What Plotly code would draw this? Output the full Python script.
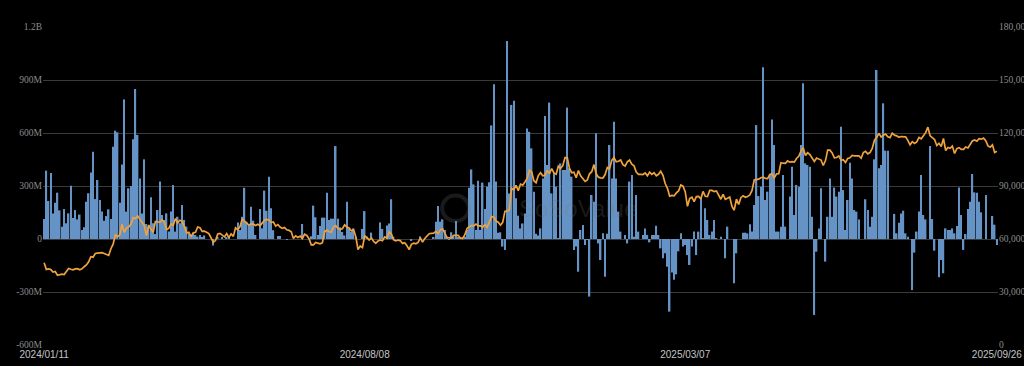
import pandas as pd
import plotly.graph_objects as go

# ---- Trading-day categories (US market holidays removed) ----
START = "2024-01-11"
END = "2025-09-26"
HOLIDAYS = ["2024-01-15", "2024-02-19", "2024-03-29", "2024-05-27", "2024-06-19",
            "2024-07-04", "2024-09-02", "2024-11-28", "2024-12-25", "2025-01-01",
            "2025-01-09", "2025-01-20", "2025-02-17", "2025-04-18", "2025-05-26",
            "2025-06-19", "2025-07-04", "2025-09-01"]
DATES = [d.strftime("%Y/%m/%d") for d in
         pd.bdate_range(START, END, freq="C", holidays=HOLIDAYS)]

# ---- Daily net flow (USD millions), one list per month ----
FLOW_2024_01 = [113, 387, 215, 373, 145, 205, 262, 162, 70, 170, 89, 145, 302, 119]
FLOW_2024_02 = [164, 111, 138, 51, 66, 211, 259, 377, 494, 226, 334, 221, 155, 104, 130,
                168, 113, 522, 613, 604]
FLOW_2024_03 = [205, 422, 790, 155, 287, 300, 564, 849, 589, 343, 145, 451, 85, 70, 236,
                89, 28, 164, 325, 136]
FLOW_2024_04 = [108, 145, 42, 155, 306, 42, 126, 89, 192, 108, 70, 32, 23, 32, 23, 13,
                23, 12, 20, 0, 0, 0]
FLOW_2024_05 = [-37, 0, 12, 0, 8, 0, 10, 12, 0, 0, 0, 94, 51, 126, 290, 98, 79, 183, 104,
                23, 0, 170]
FLOW_2024_06 = [60, 274, 160, 353, 174, 50, 0, 17, 17, 0, 0, -2, 0, 0, 0, 0, 0, 0, 85]
FLOW_2024_07 = [0, 0, 0, 15, 189, 123, 23, 74, 121, 121, 262, 108, 115, 115, 526, 115, 66,
                40, 20, 211, 60, 40]
FLOW_2024_08 = [60, 10, 0, 0, 57, 158, 13, 0, 36, 0, 0, 0, 94, 57, 0, 77, 88, 225, 13, 0,
                0, 0]
FLOW_2024_09 = [0, 0, 0, 0, -8, 0, 0, 0, 15, 0, 0, 0, 0, 0, 10, 98, 187, 98, 111, 51]
FLOW_2024_10 = [13, -2, 38, 13, 102, 10, 5, 5, 13, 51, 290, 394, 309, 51, 330, 51, 319,
                170, 296, 321, 643, 876, 325]
FLOW_2024_11 = [36, 38, -43, -62, 1121, 258, 759, 783, 230, 132, 60, 88, 145, 626, 607,
                513, 268, 30, 20, 60]
FLOW_2024_12 = [343, 696, 419, 772, 258, 372, 296, 4, 428, 391, 391, 744, 400, 353, -62,
                -43, -185, 51, 79, -34, -5]
FLOW_2025_01 = [-326, 249, 211, 598, -25, -119, 32, -213, 30, 532, 343, 664, 343, 155, 42,
                0, 23, -25, 325, 362]
FLOW_2025_02 = [13, 249, 42, 0, 23, 60, 23, -19, 23, 23, 75, 23, -53, -109, -81, -157,
                -411, -190, -230]
FLOW_2025_03 = [-200, -70, 32, -43, -34, -91, -147, -43, 42, -91, 42, 230, 4, 174, 108,
                23, 42, 108, 4, 0, 13]
FLOW_2025_04 = [0, -109, 70, 0, 0, -251, -81, 0, 0, 36, 36, 32, 83, 42, 192, 645, 243,
                296, 972, 221, 268]
FLOW_2025_05 = [362, 677, 532, 42, 42, 70, 362, 70, 0, 240, 409, 136, 306, 296, 532, 881,
                428, 419, 409, 126, -430]
FLOW_2025_06 = [-72, 60, 287, 0, -128, 126, 343, 126, 291, 240, 268, 636, 277, 51, 221,
                432, 343, 164, 155, 111]
FLOW_2025_07 = [0, 0, 225, 164, 70, 126, 451, 957, 400, 419, 768, 500, 500, 0, 0, 142, 32,
                92, 145, 160, 32, 13]
FLOW_2025_08 = [0, -289, -77, 42, 155, 362, 136, 111, 0, 526, 113, -66, 0, -217, -119,
                -194, 60, 51, 51, 60, 32]
FLOW_2025_09 = [74, 292, 136, -62, 28, 170, 211, 368, 264, 262, 211, 151, 0, 249, 0, 0,
                130, 81, -34]

# ---- BTC price (USD thousands), one list per month ----
PRICE_2024_01 = [46.6, 42.8, 43.1, 42.7, 41.3, 41.6, 39.5, 39.8, 40.1, 39.9, 41.8, 43.3,
                 42.9, 42.6]
PRICE_2024_02 = [43.1, 43.2, 42.6, 43.1, 44.3, 45.3, 47.1, 50.0, 49.7, 51.8, 52.0, 52.1,
                 52.3, 51.8, 51.3, 50.7, 54.5, 57.1, 62.5, 61.2]
PRICE_2024_03 = [62.4, 68.3, 63.8, 66.1, 66.9, 68.3, 72.1, 71.5, 73.1, 71.4, 69.4, 67.6,
                 61.9, 67.9, 65.5, 63.8, 69.9, 69.9, 69.5, 70.8]
PRICE_2024_04 = [69.7, 65.4, 66.0, 68.5, 67.8, 71.6, 69.1, 70.6, 70.0, 67.1, 63.4, 63.8,
                 61.3, 63.5, 63.8, 66.8, 66.4, 64.3, 64.5, 63.8, 63.1, 60.6]
PRICE_2024_05 = [58.2, 59.1, 62.9, 63.2, 62.3, 61.2, 63.1, 60.8, 62.9, 61.5, 66.3, 65.2,
                 67.0, 71.4, 70.1, 69.1, 67.9, 68.5, 68.4, 67.6, 68.4, 67.5]
PRICE_2024_06 = [68.8, 70.6, 71.1, 70.8, 69.3, 69.6, 67.3, 68.2, 66.8, 66.0, 66.5, 65.2,
                 64.9, 64.1, 60.3, 61.8, 60.9, 61.6, 60.3]
PRICE_2024_07 = [62.7, 62.0, 60.2, 56.7, 56.7, 58.0, 57.7, 57.3, 57.9, 64.1, 65.1, 64.1,
                 63.9, 66.7, 67.6, 65.9, 65.4, 65.8, 68.0, 66.8, 66.2, 64.6]
PRICE_2024_08 = [65.3, 61.5, 54.0, 56.0, 55.1, 61.7, 60.9, 59.4, 60.6, 58.7, 57.6, 58.9,
                 59.5, 59.0, 61.2, 60.4, 64.1, 62.9, 59.5, 59.0, 59.4, 59.1]
PRICE_2024_09 = [57.5, 57.9, 56.2, 54.0, 57.0, 57.6, 57.3, 58.1, 60.6, 58.2, 60.3, 61.8,
                 63.0, 63.2, 63.3, 64.3, 63.1, 65.2, 65.8, 63.3]
PRICE_2024_10 = [60.8, 60.6, 60.8, 62.1, 62.2, 62.1, 60.6, 60.3, 62.4, 66.0, 67.0, 67.6,
                 67.4, 68.4, 67.4, 67.4, 66.7, 68.2, 66.6, 69.9, 72.7, 72.3, 70.2]
PRICE_2024_11 = [69.5, 67.8, 69.4, 75.6, 75.9, 76.5, 88.7, 88.0, 90.4, 87.3, 91.1, 90.5,
                 92.3, 94.3, 98.9, 98.0, 93.0, 91.9, 95.9, 97.5]
PRICE_2024_12 = [95.8, 96.0, 98.8, 97.0, 99.9, 97.4, 96.7, 101.2, 100.0, 101.5, 106.1,
                 106.1, 100.0, 97.5, 97.8, 94.7, 98.7, 95.8, 94.2, 92.6, 93.4]
PRICE_2025_01 = [96.9, 98.1, 102.1, 96.9, 95.0, 94.6, 94.5, 96.5, 100.5, 99.8, 104.5,
                 106.1, 103.7, 104.0, 104.7, 102.1, 101.3, 103.7, 104.7, 102.4]
PRICE_2025_02 = [101.4, 97.9, 96.6, 96.6, 96.5, 97.4, 95.8, 97.9, 96.6, 97.5, 95.8, 96.6,
                 98.3, 96.1, 91.4, 88.7, 84.3, 84.7, 84.4]
PRICE_2025_03 = [86.1, 87.2, 90.6, 89.9, 86.8, 78.5, 82.9, 83.7, 81.1, 84.0, 84.1, 82.7,
                 86.9, 84.2, 84.0, 87.5, 87.5, 86.9, 87.2, 84.4, 82.5]
PRICE_2025_04 = [85.2, 82.5, 83.1, 83.8, 78.4, 76.3, 82.6, 79.6, 83.4, 84.5, 83.6, 84.0,
                 84.9, 87.5, 93.4, 93.7, 93.9, 94.7, 95.0, 94.3, 94.2]
PRICE_2025_05 = [96.5, 96.9, 94.7, 96.8, 97.0, 103.2, 102.9, 102.8, 104.2, 103.5, 103.8,
                 103.5, 105.6, 106.8, 109.7, 111.7, 107.3, 108.9, 107.8, 105.6, 103.9]
PRICE_2025_06 = [105.8, 105.4, 104.7, 101.6, 104.4, 110.3, 110.3, 108.7, 105.9, 106.1,
                 107.0, 104.6, 104.9, 103.3, 105.6, 106.0, 107.3, 107.1, 107.3, 107.1]
PRICE_2025_07 = [105.7, 108.9, 109.6, 108.2, 108.9, 111.3, 115.9, 117.5, 119.8, 117.7,
                 118.8, 119.4, 117.9, 117.4, 119.9, 118.8, 118.4, 117.6, 118.0, 117.9,
                 117.8, 115.8]
PRICE_2025_08 = [113.3, 115.1, 114.1, 115.0, 117.5, 116.7, 118.7, 120.2, 123.3, 118.4,
                 117.4, 116.3, 112.9, 114.2, 112.4, 116.9, 110.1, 111.8, 111.3, 112.6,
                 108.4]
PRICE_2025_09 = [111.2, 111.7, 110.7, 110.7, 112.1, 111.5, 113.9, 115.5, 116.1, 115.4,
                 116.8, 116.5, 117.1, 115.7, 112.7, 112.0, 113.3, 109.0, 109.7]

FLOW_MONTHS = [FLOW_2024_01, FLOW_2024_02, FLOW_2024_03, FLOW_2024_04, FLOW_2024_05,
               FLOW_2024_06, FLOW_2024_07, FLOW_2024_08, FLOW_2024_09, FLOW_2024_10,
               FLOW_2024_11, FLOW_2024_12, FLOW_2025_01, FLOW_2025_02, FLOW_2025_03,
               FLOW_2025_04, FLOW_2025_05, FLOW_2025_06, FLOW_2025_07, FLOW_2025_08,
               FLOW_2025_09]
PRICE_MONTHS = [PRICE_2024_01, PRICE_2024_02, PRICE_2024_03, PRICE_2024_04, PRICE_2024_05,
                PRICE_2024_06, PRICE_2024_07, PRICE_2024_08, PRICE_2024_09, PRICE_2024_10,
                PRICE_2024_11, PRICE_2024_12, PRICE_2025_01, PRICE_2025_02, PRICE_2025_03,
                PRICE_2025_04, PRICE_2025_05, PRICE_2025_06, PRICE_2025_07, PRICE_2025_08,
                PRICE_2025_09]

flows = [v * 1e6 for m in FLOW_MONTHS for v in m]
prices = [v * 1e3 for m in PRICE_MONTHS for v in m]
n = min(len(DATES), len(flows), len(prices))
dates = DATES[:n]
flows = flows[:n]
prices = prices[:n]

# ---- Axis ticks ----
X_TICKS = ["2024/01/11", "2024/08/08", "2025/03/07", "2025/09/26"]
LEFT_TICKVALS = [-600e6, -300e6, 0, 300e6, 600e6, 900e6, 1.2e9]
LEFT_TICKTEXT = ["-600M", "-300M", "0", "300M", "600M", "900M", "1.2B"]
RIGHT_TICKVALS = [0, 30000, 60000, 90000, 120000, 150000, 180000]
RIGHT_TICKTEXT = ["0", "30,000", "60,000", "90,000", "120,000", "150,000", "180,000"]

fig = go.Figure()
fig.add_trace(go.Bar(
    x=dates, y=flows, name="Daily Net Inflow",
    marker=dict(color="#6593c6", line=dict(width=0)),
    yaxis="y", hoverinfo="skip",
))
fig.add_trace(go.Scatter(
    x=dates, y=prices, name="BTC Price", mode="lines",
    line=dict(color="#f0a23c", width=1.7),
    yaxis="y2", hoverinfo="skip",
))

fig.update_layout(
    width=1024, height=366,
    paper_bgcolor="#000000", plot_bgcolor="#000000",
    margin=dict(l=43, r=26, t=27, b=21, autoexpand=False),
    showlegend=False,
    bargap=0.32,
    xaxis=dict(
        type="category", tickmode="array", tickvals=X_TICKS, ticktext=X_TICKS,
        showgrid=False, showline=False, zeroline=False, ticks="", automargin=False,
        ticklabelstandoff=2,
        tickfont=dict(family="Liberation Sans, Arial, sans-serif", size=10, color="#c4c4c4"),
        range=[-0.5, n - 0.5],
    ),
    yaxis=dict(
        range=[-600e6, 1.2e9], tickmode="array", tickvals=LEFT_TICKVALS,
        ticktext=LEFT_TICKTEXT, showgrid=True, gridcolor="#3a3a3a", gridwidth=1,
        zeroline=False, showline=False, ticks="", automargin=False,
        tickfont=dict(family="Liberation Serif, Times New Roman, serif", size=9.5,
                      color="#8c8c8c"),
    ),
    yaxis2=dict(
        range=[0, 180000], overlaying="y", side="right", tickmode="array",
        tickvals=RIGHT_TICKVALS, ticktext=RIGHT_TICKTEXT, showgrid=False,
        zeroline=False, showline=False, ticks="", automargin=False,
        tickfont=dict(family="Liberation Serif, Times New Roman, serif", size=9.5,
                      color="#8c8c8c"),
    ),
    annotations=[dict(
        text="SoSoValue", xref="paper", yref="paper", x=0.56, y=0.43,
        showarrow=False, font=dict(family="Liberation Sans, Arial", size=24,
                                   color="rgba(120,120,120,0.22)"),
    )],
    shapes=[dict(
        type="circle", xref="paper", yref="paper", x0=0.418, x1=0.446,
        y0=0.39, y1=0.47, line=dict(color="rgba(120,120,120,0.22)", width=4),
    )],
)

fig.write_html("out.html",
               config={"displayModeBar": False},
               post_script="document.body.style.margin='0';"
                           "document.body.style.background='#000';")
